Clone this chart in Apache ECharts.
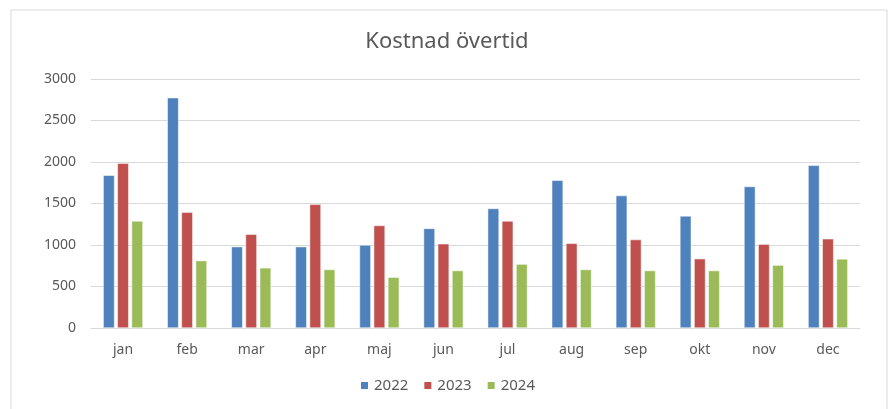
<!DOCTYPE html>
<html>
<head>
    <meta charset="utf-8">
    <script src="https://cdn.jsdelivr.net/npm/echarts@6/dist/echarts.min.js"></script>
    <style>
        html, body { margin: 0; padding: 0; background: #fff; }
        #chart { width: 894px; height: 409px; }
    </style>
</head>
<body>
    <div id="chart"></div>
    <script>
        var months = ['jan', 'feb', 'mar', 'apr', 'maj', 'jun', 'jul', 'aug', 'sep', 'okt', 'nov', 'dec'];
        var v2022 = [1840, 2775, 980, 980, 1000, 1200, 1440, 1780, 1595, 1350, 1705, 1960];
        var v2023 = [1985, 1395, 1130, 1490, 1235, 1015, 1290, 1020, 1065, 835, 1010, 1075];
        var v2024 = [1290, 812, 725, 705, 612, 692, 770, 705, 692, 692, 758, 832];
        var yTicks = [0, 500, 1000, 1500, 2000, 2500, 3000];

        var txt = '#595959';
        var font = 'Noto Sans';
        var myChart = echarts.init(document.getElementById('chart'));

        var bar = function (name, data, color) {
            return {
                name: name,
                type: 'bar',
                data: data,
                barGap: '25%',
                barCategoryGap: '38%',
                itemStyle: { color: color, borderColor: '#ffffff', borderWidth: 0.5 }
            };
        };

        myChart.setOption({
            animation: false,
            textStyle: { fontFamily: font },
            graphic: [{
                type: 'rect',
                shape: { x: 11, y: 10, width: 876, height: 420 },
                style: { fill: 'none', stroke: '#d9d9d9', lineWidth: 1 }
            }],
            title: {
                text: 'Kostnad övertid',
                left: 'center',
                top: 26,
                textStyle: { color: txt, fontSize: 22, fontWeight: 'normal', fontFamily: font }
            },
            legend: {
                bottom: 11,
                left: 'center',
                itemWidth: 9,
                itemHeight: 9,
                itemGap: 14,
                icon: 'rect',
                textStyle: { color: txt, fontSize: 15, fontFamily: font }
            },
            grid: { left: 91, right: 34, top: 79, bottom: 81 },
            xAxis: {
                type: 'category',
                data: months,
                axisLine: { lineStyle: { color: '#d9d9d9', width: 1 } },
                axisTick: { show: false },
                axisLabel: { color: txt, fontSize: 14, margin: 15, fontFamily: font }
            },
            yAxis: {
                type: 'value',
                min: yTicks[0],
                max: yTicks[yTicks.length - 1],
                interval: 500,
                axisLine: { show: false },
                axisTick: { show: false },
                splitLine: { lineStyle: { color: '#d9d9d9', width: 1 } },
                axisLabel: {
                    color: txt, fontSize: 14, margin: 15, fontFamily: font,
                    formatter: function (v) { return String(v); }
                }
            },
            series: [
                bar('2022', v2022, '#4f81bd'),
                bar('2023', v2023, '#c0504d'),
                bar('2024', v2024, '#9bbb59')
            ]
        });
    </script>
</body>
</html>
